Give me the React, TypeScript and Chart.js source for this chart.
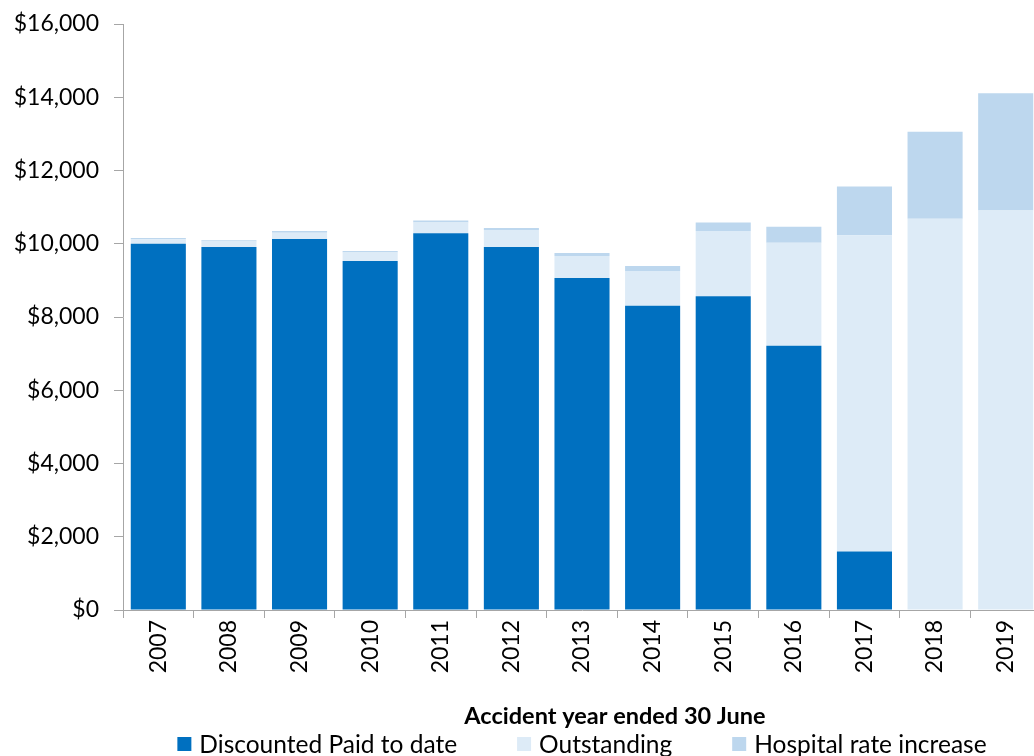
import React, { useEffect, useRef } from "react";
import { Chart, registerables } from "chart.js";

Chart.register(...registerables);

// Accident years on the category axis
const years = ["2007", "2008", "2009", "2010", "2011", "2012", "2013", "2014", "2015", "2016", "2017", "2018", "2019"];

// Stacked components ($)
const paidToDate = [10000, 9910, 10130, 9530, 10290, 9910, 9065, 8310, 8565, 7215, 1595, 0, 0];
const outstanding = [120, 150, 170, 230, 290, 465, 600, 945, 1785, 2815, 8635, 10685, 10905];
const hospitalRateIncrease = [40, 35, 45, 45, 55, 55, 80, 135, 230, 435, 1330, 2375, 3205];

const seriesNames = ["Discounted Paid to date", "Outstanding", "Hospital rate increase"];
const xAxisTitle = "Accident year ended 30 June";

const FONT = "Lato, 'Open Sans', sans-serif";
const PAID = "#0070C0";
const OUTSTANDING = "#DDEBF7";
const HOSPITAL = "#BDD7EE";
const AXIS = "#A6A6A6";

const CANVAS_W = 1041;
const CANVAS_H = 756;

// Axis title and legend, drawn beneath the rotated year labels
const bottomText = {
  id: "bottomText",
  afterDraw(chart: any) {
    const { ctx, chartArea } = chart;
    const mid = (chartArea.left + chartArea.right) / 2;
    ctx.save();
    ctx.fillStyle = "#000";
    ctx.textBaseline = "middle";

    ctx.font = `bold 23.5px ${FONT}`;
    ctx.textAlign = "center";
    ctx.fillText(xAxisTitle, mid + 33, 716);

    ctx.font = `24.5px ${FONT}`;
    ctx.textAlign = "left";
    const colors = [PAID, OUTSTANDING, HOSPITAL];
    const box = 14;
    const gapText = 8;
    const gapItem = 60;
    const widths = seriesNames.map((n) => box + gapText + ctx.measureText(n).width);
    const total = widths.reduce((a, b) => a + b, 0) + gapItem * (widths.length - 1);
    let x = mid - total / 2;
    const y = 744;
    seriesNames.forEach((name, i) => {
      ctx.fillStyle = colors[i];
      ctx.fillRect(x, y - box / 2, box, box);
      ctx.fillStyle = "#000";
      ctx.fillText(name, x + box + gapText, y + 1);
      x += widths[i] + gapItem;
    });
    ctx.restore();
  },
};

export default function App() {
  const canvasRef = useRef<HTMLCanvasElement | null>(null);

  useEffect(() => {
    if (!canvasRef.current) return;
    const chart = new Chart(canvasRef.current, {
      type: "bar",
      data: {
        labels: years,
        datasets: [
          { label: seriesNames[0], data: paidToDate, backgroundColor: PAID },
          { label: seriesNames[1], data: outstanding, backgroundColor: OUTSTANDING },
          { label: seriesNames[2], data: hospitalRateIncrease, backgroundColor: HOSPITAL },
        ],
      },
      options: {
        responsive: false,
        animation: false,
        layout: { padding: { top: 24, right: 0, bottom: 0, left: 0 } },
        datasets: { bar: { barPercentage: 0.78, categoryPercentage: 1 } },
        plugins: { legend: { display: false }, tooltip: { enabled: false } },
        scales: {
          x: {
            stacked: true,
            afterFit: (scale: any) => {
              scale.height = 146;
            },
            grid: { offset: true, drawOnChartArea: false, drawTicks: true, tickLength: 8, color: AXIS },
            border: { display: true, color: AXIS, width: 1 },
            ticks: {
              autoSkip: false,
              minRotation: 90,
              maxRotation: 90,
              padding: 2,
              color: "#000",
              font: { family: FONT, size: 23 },
            },
          },
          y: {
            stacked: true,
            min: 0,
            max: 16000,
            afterFit: (scale: any) => {
              scale.width = 123;
              // only half a label height is needed above the top tick
              scale.paddingTop = 14;
              scale.paddingBottom = 14;
            },
            grid: { drawOnChartArea: false, drawTicks: true, tickLength: 9, color: AXIS },
            border: { display: true, color: AXIS, width: 1 },
            ticks: {
              stepSize: 2000,
              padding: 15,
              color: "#000",
              font: { family: FONT, size: 23 },
              callback: (v: any) => "$" + Number(v).toLocaleString("en-US"),
            },
          },
        },
      },
      plugins: [bottomText],
    });
    return () => chart.destroy();
  }, []);

  return (
    <div
      style={{
        position: "fixed",
        left: 0,
        top: 0,
        width: 1034,
        height: CANVAS_H,
        overflow: "hidden",
        background: "#fff",
      }}
    >
      <canvas ref={canvasRef} width={CANVAS_W} height={CANVAS_H} style={{ display: "block" }} />
    </div>
  );
}
